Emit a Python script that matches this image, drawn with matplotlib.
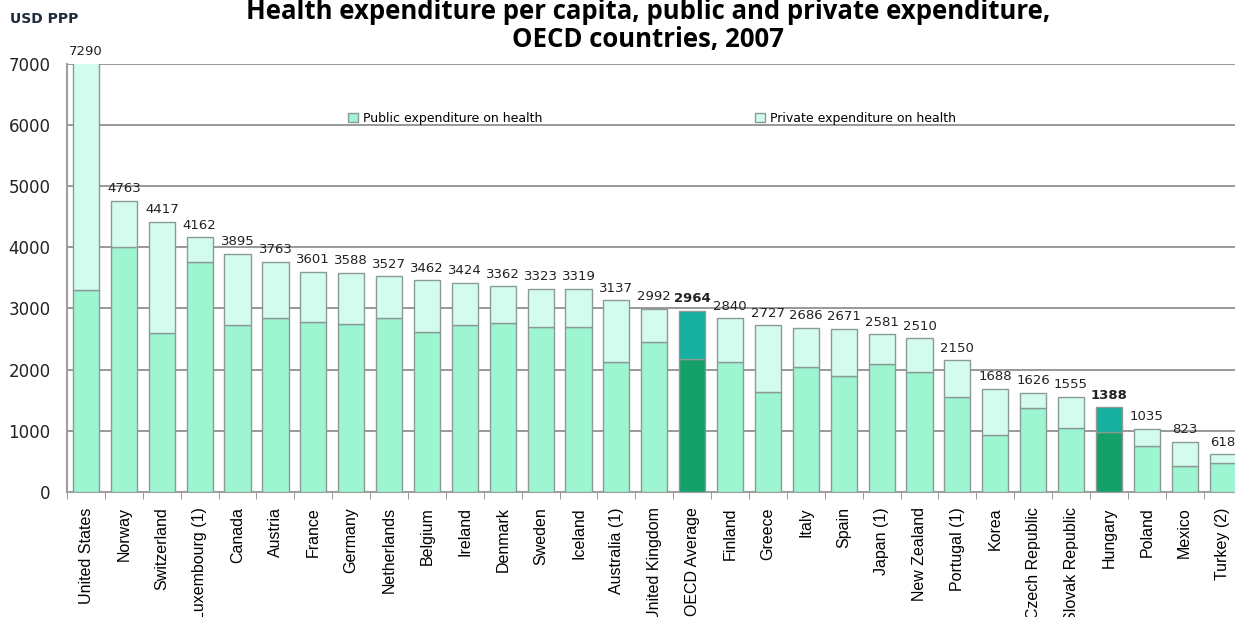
import matplotlib.pyplot as plt
import numpy as np

countries = ["United States", "Norway", "Switzerland", "Luxembourg (1)", "Canada",
             "Austria", "France", "Germany", "Netherlands", "Belgium", "Ireland",
             "Denmark", "Sweden", "Iceland", "Australia (1)", "United Kingdom",
             "OECD Average", "Finland", "Greece", "Italy", "Spain", "Japan (1)",
             "New Zealand", "Portugal (1)", "Korea", "Czech Republic",
             "Slovak Republic", "Hungary", "Poland", "Mexico", "Turkey (2)"]
totals = [7290, 4763, 4417, 4162, 3895, 3763, 3601, 3588, 3527, 3462, 3424,
          3362, 3323, 3319, 3137, 2992, 2964, 2840, 2727, 2686, 2671, 2581,
          2510, 2150, 1688, 1626, 1555, 1388, 1035, 823, 618]
public = [3300, 4000, 2600, 3760, 2730, 2840, 2780, 2750, 2840, 2610, 2730,
          2760, 2700, 2700, 2120, 2450, 2170, 2120, 1630, 2040, 1900, 2100,
          1960, 1550, 930, 1370, 1050, 980, 750, 425, 475]
highlight = ["OECD Average", "Hungary"]

private = np.array(totals) - np.array(public)
x = np.arange(len(countries))

pub_col = ["#15a06a" if c in highlight else "#9ef5d2" for c in countries]
priv_col = ["#15b0a0" if c in highlight else "#d4fcee" for c in countries]

fig = plt.figure(figsize=(12.35, 6.17), dpi=100)
ax = fig.add_axes([0.0543, 0.2026, 0.951, 0.694])

ax.bar(x, public, width=0.69, color=pub_col, edgecolor="#8a9a94", linewidth=1,
       label="Public expenditure on health", zorder=3)
ax.bar(x, private, bottom=public, width=0.69, color=priv_col, edgecolor="#8a9a94",
       linewidth=1, label="Private expenditure on health", zorder=3)

for xi, t, c in zip(x, totals, countries):
    ax.text(xi, min(t, 7000) + 90, str(t), ha="center", va="bottom", fontsize=9.5,
            color="#222222", fontweight="bold" if c in highlight else "normal",
            clip_on=False, zorder=4)

ax.set_xlim(-0.5, len(countries) - 0.5)
ax.set_ylim(0, 7000)
ax.set_yticks(range(0, 7001, 1000))
ax.yaxis.grid(True, color="#999999", linewidth=1.4, zorder=0)
ax.tick_params(axis="y", length=0, labelsize=12, pad=12, labelcolor="#222222")
ax.set_xticks(x)
ax.set_xticklabels(countries, rotation=90, fontsize=11.5, family="Liberation Sans")
ax.set_xticks(np.arange(-0.5, len(countries), 1), minor=True)
ax.tick_params(axis="x", which="major", length=0, pad=11)
ax.tick_params(axis="x", which="minor", length=5, color="#888888")
for s in ["top", "right"]:
    ax.spines[s].set_visible(False)
ax.spines["left"].set_color("#a0a0a0")
ax.spines["left"].set_linewidth(1.5)
ax.spines["bottom"].set_color("#a0a0a0")
ax.spines["bottom"].set_linewidth(1.5)

ax.legend(loc="center left", bbox_to_anchor=(0.23, 0.873), ncol=2, frameon=False,
          fontsize=9, columnspacing=17, handlelength=0.8, handleheight=0.8,
          handletextpad=0.4)

fig.text(0.525, 0.982, "Health expenditure per capita, public and private expenditure,",
         ha="center", va="center", fontsize=18.5, fontweight="bold", family="Open Sans")
fig.text(0.525, 0.936, "OECD countries, 2007", ha="center", va="center",
         fontsize=18.5, fontweight="bold", family="Open Sans")
fig.text(0.008, 0.97, "USD PPP", ha="left", va="center", fontsize=10,
         fontweight="bold", color="#1f2a3a")

fig.savefig("out.png", dpi=100)
